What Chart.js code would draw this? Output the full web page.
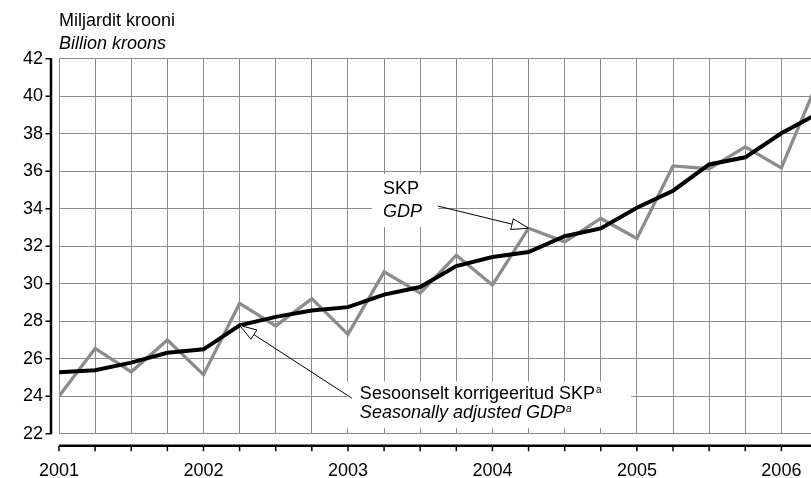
<!DOCTYPE html>
<html>
<head>
<meta charset="utf-8">
<script src="https://cdn.jsdelivr.net/npm/chart.js@4.4.1/dist/chart.umd.min.js"></script>
<style>
  html, body { margin: 0; padding: 0; background: #fff; }
  #wrap { width: 811px; height: 478px; }
</style>
</head>
<body>
<div id="wrap"><canvas id="chart" width="811" height="478"></canvas></div>
<script>
// kvartalid 2001 I - 2006 II
const quarters = [
    "2001 I", "2001 II", "2001 III", "2001 IV",
    "2002 I", "2002 II", "2002 III", "2002 IV",
    "2003 I", "2003 II", "2003 III", "2003 IV",
    "2004 I", "2004 II", "2004 III", "2004 IV",
    "2005 I", "2005 II", "2005 III", "2005 IV",
    "2006 I", "2006 II"
];
// SKP / GDP
const gdp = [
    24.0, 26.55, 25.3, 27.0,
    25.15, 28.95, 27.75, 29.2,
    27.3, 30.63, 29.5, 31.52,
    29.93, 32.96, 32.23, 33.48,
    32.41, 36.28, 36.13, 37.3,
    36.18, 40.75
];
// Sesoonselt korrigeeritud SKP / Seasonally adjusted GDP
const gdpAdjusted = [
    25.28, 25.39, 25.79, 26.32,
    26.5, 27.78, 28.23, 28.57,
    28.75, 29.42, 29.82, 30.94,
    31.42, 31.69, 32.53, 32.95,
    34.05, 34.96, 36.36, 36.74,
    38.02, 39.07
];
const yearLabels = ["2001", "2002", "2003", "2004", "2005", "2006"];
const yTicks = [22, 24, 26, 28, 30, 32, 34, 36, 38, 40, 42];

const FONT = '"Liberation Sans", Arial, Helvetica, sans-serif';
const GRID = "#8c8c8c";

// label boxes and arrows, placed in data coordinates
const notes = [
    {
        box: [8.67, 10.49, 33.02, 35.85],
        lines: [
            { text: "SKP", italic: false, x: 8.97, y: 34.78 },
            { text: "GDP", italic: true, x: 8.97, y: 33.57 }
        ],
        from: [10.49, 34.14],
        target: { series: gdp, index: 13 }
    },
    {
        box: [7.97, 15.84, 22.3, 24.78],
        lines: [
            { text: "Sesoonselt korrigeeritud SKP", sup: "a", italic: false, x: 8.33, y: 23.83 },
            { text: "Seasonally adjusted GDP", sup: "a", italic: true, x: 8.33, y: 22.85 }
        ],
        from: [8.11, 23.89],
        target: { series: gdpAdjusted, index: 5 }
    }
];

function drawArrow(ctx, x1, y1, x2, y2) {
    const len = 17, half = 5.5;
    const ang = Math.atan2(y2 - y1, x2 - x1);
    const bx = x2 - len * Math.cos(ang), by = y2 - len * Math.sin(ang);
    ctx.beginPath();
    ctx.moveTo(x1, y1);
    ctx.lineTo(bx, by);
    ctx.stroke();
    ctx.beginPath();
    ctx.moveTo(x2, y2);
    ctx.lineTo(bx + half * Math.sin(ang), by - half * Math.cos(ang));
    ctx.lineTo(bx - half * Math.sin(ang), by + half * Math.cos(ang));
    ctx.closePath();
    ctx.fillStyle = "#fff";
    ctx.fill();
    ctx.stroke();
}

const decorations = {
    id: "decorations",
    beforeDatasetsDraw(chart) {
        const { ctx, scales: { x, y } } = chart;
        ctx.save();
        ctx.fillStyle = "#fff";
        notes.forEach(n => {
            const l = x.getPixelForValue(n.box[0]), r = x.getPixelForValue(n.box[1]);
            const b = y.getPixelForValue(n.box[2]), t = y.getPixelForValue(n.box[3]);
            ctx.fillRect(l, t, r - l, b - t);
        });
        ctx.restore();
    },
    afterDatasetsDraw(chart) {
        const { ctx, chartArea, scales: { x, y } } = chart;
        ctx.save();

        // annotations
        ctx.strokeStyle = "#000";
        ctx.lineWidth = 1;
        ctx.textBaseline = "alphabetic";
        notes.forEach(n => {
            n.lines.forEach(line => {
                ctx.font = (line.italic ? "italic " : "") + "18px " + FONT;
                ctx.fillStyle = "#000";
                const px = x.getPixelForValue(line.x), py = y.getPixelForValue(line.y);
                ctx.fillText(line.text, px, py);
                if (line.sup) {
                    const w = ctx.measureText(line.text).width;
                    ctx.font = (line.italic ? "italic " : "") + "10px " + FONT;
                    ctx.fillText(line.sup, px + w + 1, py - 6);
                }
            });
            const tx = x.getPixelForValue(n.target.index);
            const ty = y.getPixelForValue(n.target.series[n.target.index]);
            drawArrow(ctx, x.getPixelForValue(n.from[0]), y.getPixelForValue(n.from[1]), tx, ty);
        });

        // unit titles
        ctx.fillStyle = "#000";
        ctx.font = "18px " + FONT;
        ctx.fillText("Miljardit krooni", chartArea.left, 26);
        ctx.font = "italic 18px " + FONT;
        ctx.fillText("Billion kroons", chartArea.left, 49);

        // detached axes
        ctx.strokeStyle = "#000";
        const ax = chartArea.left - 8;
        ctx.lineWidth = 2.5;
        ctx.beginPath();
        ctx.moveTo(ax, y.getPixelForValue(yTicks[yTicks.length - 1]) - 0.5);
        ctx.lineTo(ax, y.getPixelForValue(yTicks[0]) + 0.5);
        ctx.stroke();
        ctx.lineWidth = 1.5;
        yTicks.forEach(v => {
            const py = y.getPixelForValue(v);
            ctx.beginPath();
            ctx.moveTo(ax - 5.5, py);
            ctx.lineTo(ax, py);
            ctx.stroke();
        });

        const ay = chartArea.bottom + 12;
        ctx.lineWidth = 2.5;
        ctx.beginPath();
        ctx.moveTo(x.getPixelForValue(0), ay);
        ctx.lineTo(chartArea.right, ay);
        ctx.stroke();
        ctx.lineWidth = 1.5;
        quarters.forEach((q, i) => {
            const px = x.getPixelForValue(i);
            if (px > chartArea.right) return;
            ctx.beginPath();
            ctx.moveTo(px, ay);
            ctx.lineTo(px, ay + 5.5);
            ctx.stroke();
        });
        ctx.restore();
    }
};

new Chart(document.getElementById("chart"), {
    type: "line",
    data: {
        datasets: [
            {
                label: "Sesoonselt korrigeeritud SKP",
                data: gdpAdjusted.map((v, i) => ({ x: i, y: v })),
                borderColor: "#000",
                borderWidth: 4,
                pointRadius: 0,
                tension: 0,
                order: 1
            },
            {
                label: "SKP",
                data: gdp.map((v, i) => ({ x: i, y: v })),
                borderColor: "#8c8c8c",
                borderWidth: 3.3,
                pointRadius: 0,
                tension: 0,
                order: 2
            }
        ]
    },
    options: {
        responsive: false,
        animation: false,
        layout: { padding: { top: 58.7, right: 0, left: 0, bottom: 0 } },
        plugins: {
            legend: { display: false },
            tooltip: { enabled: false }
        },
        scales: {
            x: {
                type: "linear",
                min: 0,
                max: 20.82,
                afterFit: s => { s.height = 44.3; s.paddingLeft = 0; s.paddingRight = 0; },
                border: { display: false },
                grid: { color: GRID, lineWidth: 1, drawTicks: false },
                ticks: {
                    stepSize: 1,
                    autoSkip: false,
                    includeBounds: false,
                    maxRotation: 0,
                    padding: 27,
                    color: "#000",
                    font: { family: FONT, size: 18 },
                    callback: v => (v % 4 === 0 ? yearLabels[v / 4] : "")
                }
            },
            y: {
                min: yTicks[0],
                max: yTicks[yTicks.length - 1],
                afterFit: s => { s.width = 59; s.paddingTop = 0; s.paddingBottom = 0; },
                border: { display: false },
                grid: { color: GRID, lineWidth: 1, drawTicks: false },
                ticks: {
                    stepSize: 2,
                    padding: 16,
                    color: "#000",
                    font: { family: FONT, size: 18 }
                }
            }
        }
    },
    plugins: [decorations]
});
</script>
</body>
</html>
